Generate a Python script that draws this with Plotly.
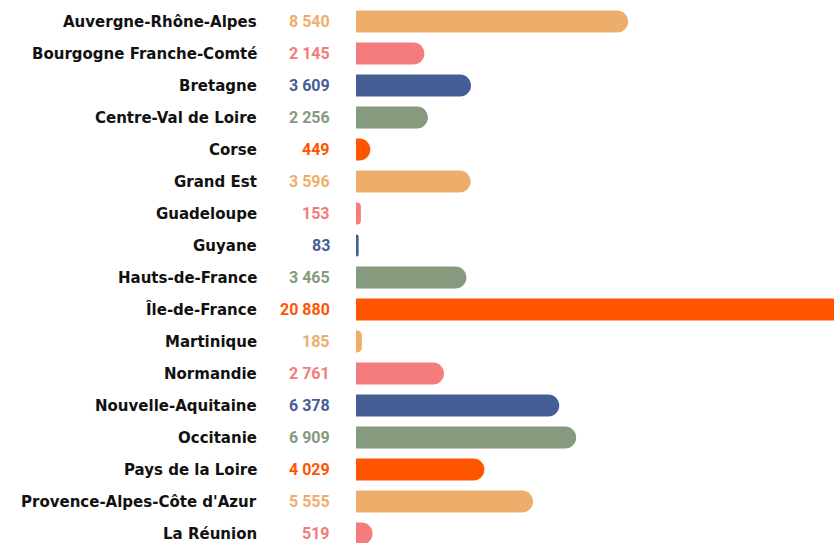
import plotly.graph_objects as go

regions = ["Auvergne-Rhône-Alpes", "Bourgogne Franche-Comté", "Bretagne", "Centre-Val de Loire",
           "Corse", "Grand Est", "Guadeloupe", "Guyane", "Hauts-de-France", "Île-de-France",
           "Martinique", "Normandie", "Nouvelle-Aquitaine", "Occitanie", "Pays de la Loire",
           "Provence-Alpes-Côte d'Azur", "La Réunion"]
values = [8540, 2145, 3609, 2256, 449, 3596, 153, 83, 3465, 20880,
          185, 2761, 6378, 6909, 4029, 5555, 519]
palette = ["#EDAE6B", "#F47C7C", "#465E96", "#869A7E", "#FF5500"]

colors = [palette[i % len(palette)] for i in range(len(regions))]
ypos = list(range(len(regions)))

W, H = 834, 543
LEFT = 356

fig = go.Figure()
fig.add_trace(go.Bar(
    x=values, y=ypos, orientation="h",
    marker=dict(color=colors, line=dict(width=0)),
    width=0.69, hoverinfo="skip",
))

anns = []
for i, (r, v, c) in enumerate(zip(regions, values, colors)):
    anns.append(dict(x=(259 - LEFT) / (W - LEFT), xref="paper", y=i, yref="y",
                     text=r, showarrow=False, xanchor="right", yanchor="middle",
                     font=dict(family="DejaVu Sans", size=15, color="#111111", weight="bold")))
    anns.append(dict(x=(332 - LEFT) / (W - LEFT), xref="paper", y=i, yref="y",
                     text=f"{v:,}".replace(",", " "), showarrow=False,
                     xanchor="right", yanchor="middle",
                     font=dict(family="Roboto", size=16, color=c, weight="bold")))

span = H / 32.0
ymin = -21.5 / 32.0
fig.update_layout(
    width=W, height=H,
    margin=dict(l=LEFT, r=0, t=0, b=0),
    paper_bgcolor="white", plot_bgcolor="white",
    barcornerradius=11,
    showlegend=False,
    xaxis=dict(range=[0, 15000], visible=False, fixedrange=True),
    yaxis=dict(range=[ymin + span, ymin], visible=False, fixedrange=True),
    annotations=anns,
)
fig.write_html("out.html", config={"displayModeBar": False},
               post_script="document.body.style.margin='0';document.body.style.overflow='hidden';")
